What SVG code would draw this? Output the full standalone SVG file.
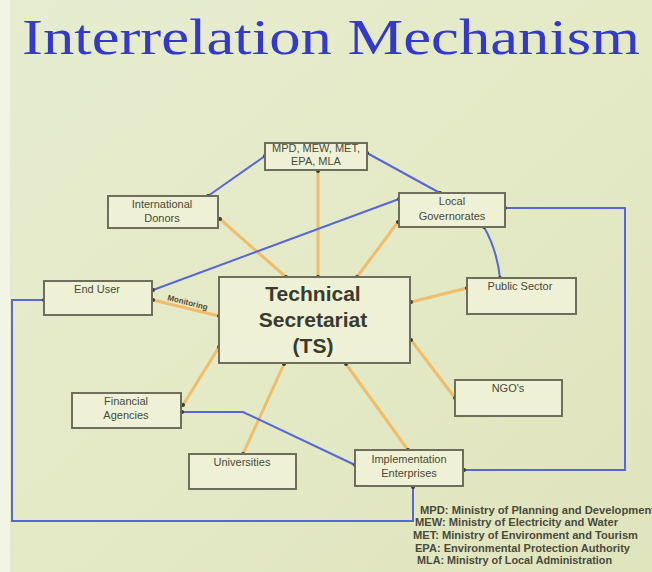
<svg xmlns="http://www.w3.org/2000/svg" width="652" height="572" viewBox="0 0 652 572">
  <defs>
    <linearGradient id="bg" x1="0" y1="0" x2="1" y2="1">
      <stop offset="0" stop-color="#e6ecd0"/>
      <stop offset="0.5" stop-color="#e4eac6"/>
      <stop offset="1" stop-color="#dfe4bd"/>
    </linearGradient>
    <marker id="dot" viewBox="0 0 6 6" refX="3" refY="3" markerWidth="4" markerHeight="4" markerUnits="userSpaceOnUse">
      <circle cx="3" cy="3" r="3" fill="#3a3a30"/>
    </marker>
    <style>
      .box { fill: #eef1d6; stroke: #6e6e5c; stroke-width: 2; }
      .lbl { font-family: "Liberation Sans", Arial, sans-serif; font-size: 11px; fill: #4a4a38; text-anchor: middle; }
      .big { font-family: "Liberation Sans", Arial, sans-serif; font-size: 21px; fill: #3a3a2e; text-anchor: middle; font-weight: bold; }
      .org { fill: none; stroke: #f0bd6a; stroke-width: 3; marker-end: url(#dot); marker-start: url(#dot); }
      .blu { fill: none; stroke: #5668d6; stroke-width: 2; marker-end: url(#dot); marker-start: url(#dot); }
      .leg { font-family: "Liberation Sans", Arial, sans-serif; font-size: 10px; font-weight: bold; fill: #4a4a3a; }
    </style>
  </defs>

  <rect x="0" y="0" width="652" height="572" fill="url(#bg)"/>
  <rect x="0" y="0" width="10" height="572" fill="#f2f4e6"/>

  <text x="22" y="54" font-family="'Liberation Serif', 'Times New Roman', serif" font-size="50" fill="#3339cc" textLength="618" lengthAdjust="spacingAndGlyphs">Interrelation Mechanism</text>

  <!-- connectors -->
  <g id="connectors">
    <!-- hub links from the Technical Secretariat -->
    <line class="org" x1="318" y1="277" x2="318" y2="171"/>
    <line class="org" x1="286" y1="277" x2="220" y2="219"/>
    <line class="org" x1="357" y1="277" x2="398" y2="222"/>
    <line class="org" x1="411" y1="302" x2="467" y2="288"/>
    <line class="org" x1="411" y1="340" x2="455" y2="398"/>
    <line class="org" x1="346" y1="364" x2="408" y2="450"/>
    <line class="org" x1="284" y1="364" x2="243" y2="454"/>
    <line class="org" x1="219" y1="347" x2="183" y2="405"/>
    <line class="org" x1="219" y1="316" x2="153" y2="300"/>
    <text x="187" y="305" font-family="'Liberation Sans', Arial, sans-serif" font-size="8" font-weight="bold" fill="#5a4a30" transform="rotate(14 187 305)" text-anchor="middle">Monitoring</text>

    <!-- coordination links -->
    <line class="blu" x1="265" y1="156" x2="208" y2="196"/>
    <line class="blu" x1="367" y1="153" x2="440" y2="193"/>
    <line class="blu" x1="399" y1="199" x2="153" y2="290"/>
    <path class="blu" d="M484,227 Q497,250 500,278"/>
    <polyline class="blu" points="505,208 625,208 625,470 464,470"/>
    <polyline class="blu" points="413,487 413,521 12,521 12,300 44,300"/>
    <polyline class="blu" points="182,412 243,412 355,465"/>
  </g>

  <!-- nodes -->
  <g id="ministries">
    <rect class="box" x="265" y="143" width="102" height="27"/>
    <text class="lbl" x="316" y="152">MPD, MEW, MET,</text>
    <text class="lbl" x="316" y="165">EPA, MLA</text>
  </g>
  <g id="international-donors">
    <rect class="box" x="108" y="196" width="110" height="32"/>
    <text class="lbl" x="162" y="208">International</text>
    <text class="lbl" x="162" y="222">Donors</text>
  </g>
  <g id="local-governorates">
    <rect class="box" x="399" y="193" width="106" height="34"/>
    <text class="lbl" x="452" y="205">Local</text>
    <text class="lbl" x="452" y="220">Governorates</text>
  </g>
  <g id="end-user">
    <rect class="box" x="44" y="281" width="108" height="34"/>
    <text class="lbl" x="97" y="293">End User</text>
  </g>
  <g id="technical-secretariat">
    <rect class="box" x="219" y="277" width="191" height="86"/>
    <text class="big" x="313" y="301">Technical</text>
    <text class="big" x="313" y="327">Secretariat</text>
    <text class="big" x="313" y="353">(TS)</text>
  </g>
  <g id="public-sector">
    <rect class="box" x="467" y="278" width="109" height="36"/>
    <text class="lbl" x="520" y="290">Public Sector</text>
  </g>
  <g id="ngos">
    <rect class="box" x="455" y="380" width="107" height="36"/>
    <text class="lbl" x="508" y="392">NGO's</text>
  </g>
  <g id="financial-agencies">
    <rect class="box" x="72" y="393" width="109" height="35"/>
    <text class="lbl" x="126" y="405">Financial</text>
    <text class="lbl" x="126" y="419">Agencies</text>
  </g>
  <g id="universities">
    <rect class="box" x="189" y="454" width="107" height="35"/>
    <text class="lbl" x="242" y="466">Universities</text>
  </g>
  <g id="implementation-enterprises">
    <rect class="box" x="355" y="450" width="108" height="36"/>
    <text class="lbl" x="409" y="463">Implementation</text>
    <text class="lbl" x="409" y="477">Enterprises</text>
  </g>

  <!-- abbreviations -->
  <g id="legend">
    <text class="leg" x="420" y="514" textLength="235" lengthAdjust="spacingAndGlyphs">MPD: Ministry of Planning and Development</text>
    <text class="leg" x="415" y="526" textLength="203" lengthAdjust="spacingAndGlyphs">MEW: Ministry of Electricity and Water</text>
    <text class="leg" x="413" y="539" textLength="225" lengthAdjust="spacingAndGlyphs">MET: Ministry of Environment and Tourism</text>
    <text class="leg" x="415" y="552" textLength="215" lengthAdjust="spacingAndGlyphs">EPA: Environmental Protection Authority</text>
    <text class="leg" x="417" y="564" textLength="195" lengthAdjust="spacingAndGlyphs">MLA: Ministry of Local Administration</text>
  </g>
</svg>
